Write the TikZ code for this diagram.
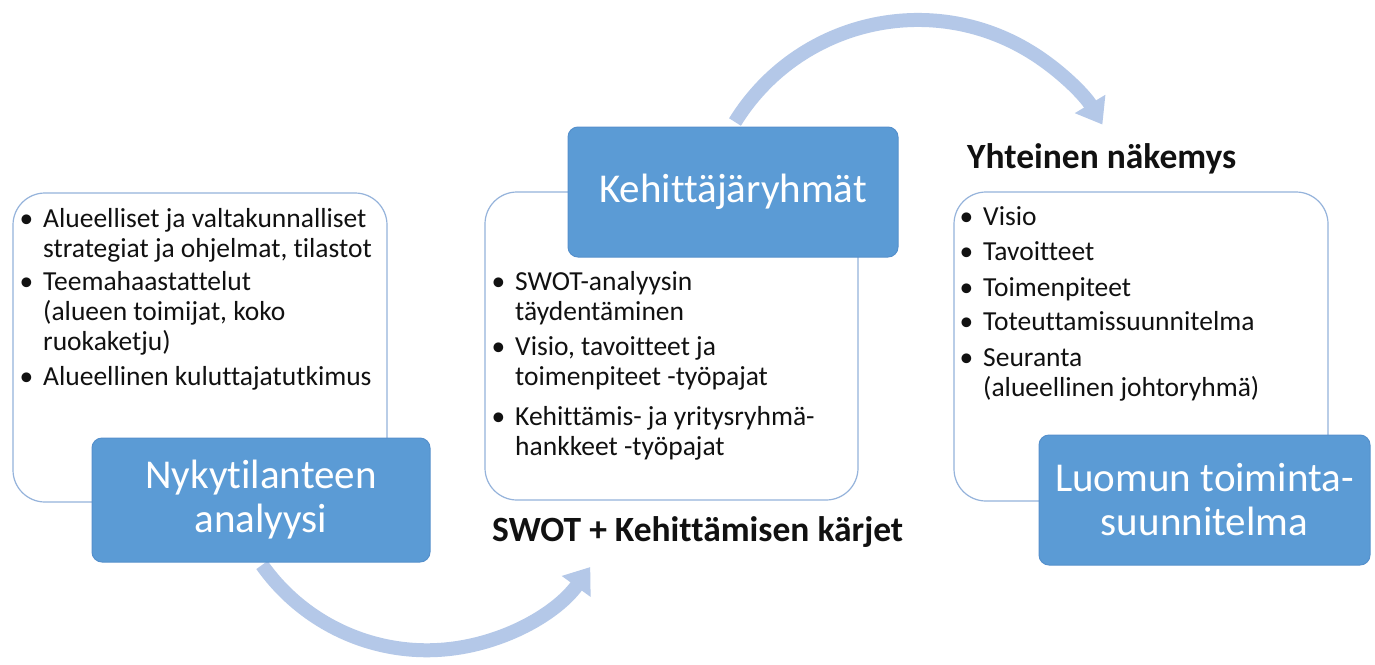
\documentclass[tikz,border=0pt]{standalone}
\usepackage{fontspec}
\setmainfont{Carlito}[Ligatures=NoCommon]
\usetikzlibrary{arrows.meta}
\definecolor{bluefill}{HTML}{5B9BD5}
\definecolor{blueedge}{HTML}{5590CC}
\definecolor{paneledge}{HTML}{95B3DB}
\definecolor{arrowc}{HTML}{B4C8E8}
\definecolor{textc}{HTML}{111111}
\newcommand{\bul}{\leavevmode\llap{\textbullet\hspace{10pt}}}
\begin{document}
\begin{tikzpicture}[x=1pt,y=-1pt,
 panel/.style={draw=paneledge, line width=1.2pt, fill=white, rounded corners=32pt, inner sep=0},
 bluebox/.style={draw=blueedge, line width=1pt, fill=bluefill, rounded corners=10pt,
   text=white, font=\fontsize{41}{44}\selectfont, align=center, inner sep=0},
 itemtext/.style={anchor=base west, inner sep=0, text=textc, font=\fontsize{27.5}{30}\selectfont},
 titletext/.style={anchor=base west, inner sep=0, text=textc, font=\fontsize{35.5}{38}\selectfont\bfseries},
 cyclearrow/.style={draw=arrowc, line width=14pt, -{Triangle[width=34pt,length=24pt]}}
]
\useasboundingbox[fill=white] (0,0) rectangle (1375,664);

% cycle arrows
\coordinate (arrowAstart) at (262,565);
\coordinate (arrowBstart) at (735,122);
\draw[cyclearrow] (arrowAstart) arc[start angle=144.7, end angle=36, radius=202];
\draw[cyclearrow] (arrowBstart) arc[start angle=211.7, end angle=329.1, radius=215];

% panels
\node[panel, minimum width=374pt, minimum height=309pt] (panelL) at (200,347.5) {};
\node[panel, minimum width=373pt, minimum height=308pt] (panelM) at (671.5,346) {};
\node[panel, minimum width=374pt, minimum height=309pt] (panelR) at (1141,346.5) {};

% blue boxes
\node[bluebox, minimum width=338pt, minimum height=124pt] (boxL) at (261,500) {Nykytilanteen\\analyysi};
\node[bluebox, minimum width=330pt, minimum height=130pt] (boxM) at (733,192) {Kehittäjäryhmät};
\node[bluebox, minimum width=331pt, minimum height=130pt] (boxR) at (1204.5,500) {Luomun toiminta-\\suunnitelma};

% left items
\node[itemtext] (l1) at (43,227) {\parbox[t]{340pt}{\bul Alueelliset ja valtakunnalliset\\strategiat ja ohjelmat, tilastot}};
\node[itemtext] (l2) at (43,290) {\parbox[t]{340pt}{\bul Teemahaastattelut\\(alueen toimijat, koko\\ruokaketju)}};
\node[itemtext] (l3) at (43,385) {\parbox[t]{340pt}{\bul Alueellinen kuluttajatutkimus}};

% middle items
\node[itemtext] (m1) at (515,290) {\parbox[t]{340pt}{\bul SWOT-analyysin\\täydentäminen}};
\node[itemtext] (m2) at (515,355) {\parbox[t]{340pt}{\bul Visio, tavoitteet ja\\toimenpiteet -työpajat}};
\node[itemtext] (m3) at (515,425) {\parbox[t]{340pt}{\bul Kehittämis- ja yritysryhmä-\\hankkeet -työpajat}};

% right items
\node[itemtext] (r1) at (983,225) {\bul Visio};
\node[itemtext] (r2) at (983,260) {\bul Tavoitteet};
\node[itemtext] (r3) at (983,296) {\bul Toimenpiteet};
\node[itemtext] (r4) at (983,330) {\bul Toteuttamissuunnitelma};
\node[itemtext] (r5) at (983,366) {\parbox[t]{340pt}{\bul Seuranta\\(alueellinen johtoryhmä)}};

% titles
\node[titletext] (titleR) at (967,168) {Yhteinen näkemys};
\node[titletext] (titleM) at (492,541) {SWOT + Kehittämisen kärjet};
\end{tikzpicture}
\end{document}
